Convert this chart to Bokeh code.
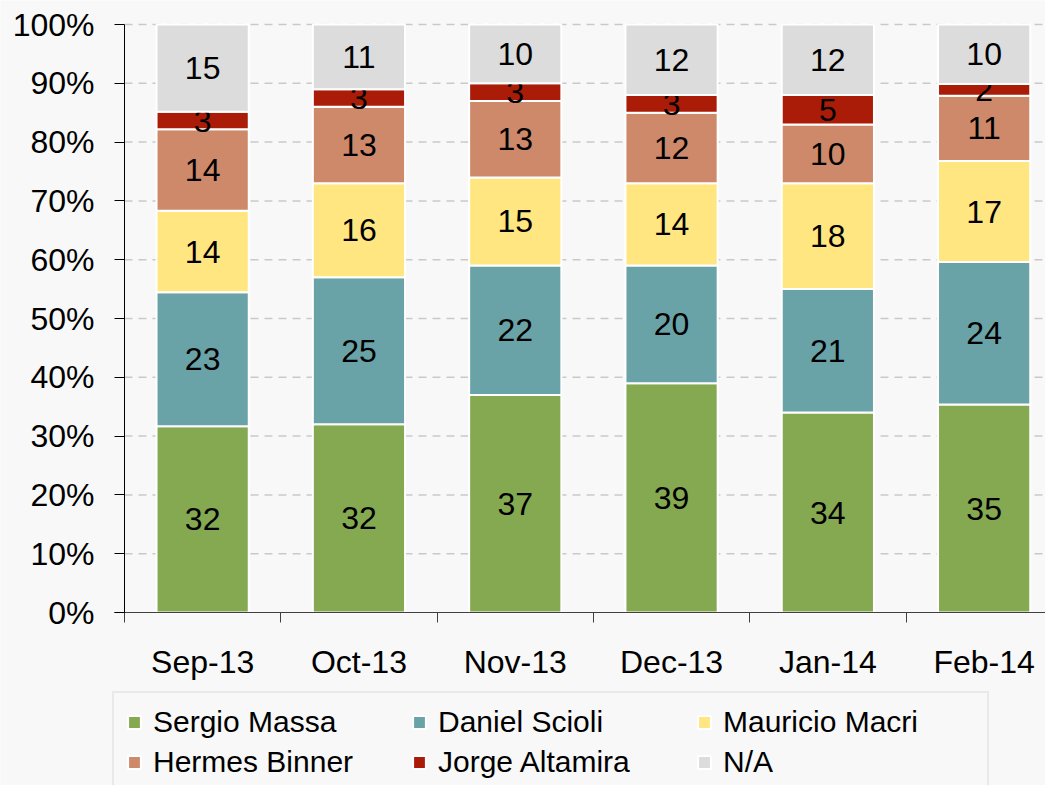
import numpy as np
from bokeh.plotting import figure
from bokeh.models import ColumnDataSource, Range1d, FixedTicker, Legend, LegendItem, NumeralTickFormatter
from bokeh.core.properties import value
from bokeh.embed import file_html
from bokeh.resources import INLINE

months = ["Sep-13", "Oct-13", "Nov-13", "Dec-13", "Jan-14", "Feb-14"]
series = ["Sergio Massa", "Daniel Scioli", "Mauricio Macri", "Hermes Binner", "Jorge Altamira", "N/A"]
massa = [32, 32, 37, 39, 34, 35]
scioli = [23, 25, 22, 20, 21, 24]
macri = [14, 16, 15, 14, 18, 17]
binner = [14, 13, 13, 12, 10, 11]
altamira = [3, 3, 3, 3, 5, 2]
na = [15, 11, 10, 12, 12, 10]
colors = ["#84a951", "#6aa3a7", "#ffe681", "#cd896a", "#aa1c07", "#dcdcdc"]
y_ticks = [0, 0.1, 0.2, 0.3, 0.4, 0.5, 0.6, 0.7, 0.8, 0.9, 1.0]

FONT = "Liberation Sans"
BG = "#f8f8f8"
W, H = 1045, 785
AX_X, AX_Y0, AX_Y1 = 124, 612, 24      # pixel positions of x=0, y=0, y=1
CAT_W = 156.3                          # pixels per category

vals = np.array([massa, scioli, macri, binner, altamira, na], dtype=float)
share = vals / vals.sum(axis=0)
top = np.cumsum(share, axis=0)
bottom = top - share
ncat = len(months)
xc = np.arange(ncat) + 0.5

ppu_y = AX_Y0 - AX_Y1
x_range = Range1d(-AX_X / CAT_W, (W - AX_X) / CAT_W)
y_range = Range1d(-(H - AX_Y0) / ppu_y, 1 + AX_Y1 / ppu_y)

p = figure(width=W, height=H, output_backend="svg", toolbar_location=None,
           x_range=x_range, y_range=y_range,
           min_border_left=0, min_border_right=0, min_border_top=0, min_border_bottom=0,
           background_fill_color=BG, border_fill_color=BG, outline_line_color=None)
p.xgrid.visible = False
p.ygrid.visible = False

# dashed gridlines from the axis to the right
gy = y_ticks[1:]
p.segment(x0=[0] * len(gy), x1=[ncat] * len(gy), y0=gy, y1=gy,
          line_color="#c9c9c9", line_width=1.5, line_dash="8 6")

items = []
for i, name in enumerate(series):
    src = ColumnDataSource(dict(x=xc, top=top[i], bottom=bottom[i],
                                mid=(top[i] + bottom[i]) / 2,
                                lab=[str(int(v)) for v in vals[i]]))
    r = p.vbar(x="x", width=0.59, top="top", bottom="bottom", source=src,
               fill_color=colors[i], line_color="white", line_width=2)
    p.text(x="x", y="mid", text="lab", source=src, text_align="center",
           text_baseline="middle", text_font=value(FONT), text_font_size="32px",
           text_color="black")
    items.append(LegendItem(label=name, renderers=[r]))

# x axis
xa = p.xaxis[0]
xa.fixed_location = 0
xa.bounds = (-10 / CAT_W, ncat)
xa.ticker = FixedTicker(ticks=list(xc), minor_ticks=list(range(0, ncat + 1)))
xa.major_label_overrides = {float(x): m for x, m in zip(xc, months)}
xa.major_tick_out = 0
xa.major_tick_in = 0
xa.minor_tick_out = 10
xa.minor_tick_in = 0
xa.minor_tick_line_color = "#404040"
xa.axis_line_color = "#404040"
xa.major_label_standoff = 21
xa.major_label_text_font = FONT
xa.major_label_text_font_size = "32px"
xa.major_label_text_color = "black"

# y axis
ya = p.yaxis[0]
ya.fixed_location = 0
ya.bounds = (0, 1)
ya.ticker = FixedTicker(ticks=y_ticks)
ya.formatter = NumeralTickFormatter(format="0%")
ya.major_tick_out = 10
ya.major_tick_in = 0
ya.minor_tick_line_color = None
ya.axis_line_color = "black"
ya.major_tick_line_color = "black"
ya.major_label_standoff = 20
ya.major_label_text_font = FONT
ya.major_label_text_font_size = "32px"
ya.major_label_text_color = "black"

legend = Legend(items=items, orientation="horizontal", ncols=3,
                location=(112, -8), margin=0, padding=12, spacing=6,
                glyph_width=16, glyph_height=16, label_standoff=11,
                label_height=30, label_width=252,
                label_text_font=FONT, label_text_font_size="30px",
                label_text_color="black",
                background_fill_color=BG, background_fill_alpha=1,
                border_line_color="#d9d9d9", border_line_width=2)
p.add_layout(legend, "center")

open("out.html", "w").write(file_html(p, INLINE))
